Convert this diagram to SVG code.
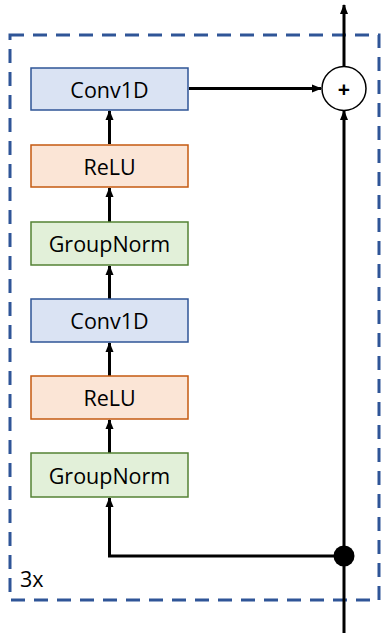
<svg xmlns="http://www.w3.org/2000/svg" width="381" height="633" viewBox="0 0 381 633">
<style>
.box{stroke-width:1.5}
.conv{fill:#DAE3F3;stroke:#2F5597}
.relu{fill:#FBE5D6;stroke:#C55A11}
.gn{fill:#E2F0D9;stroke:#548235}
.lbl{font-family:"Open Sans","Liberation Sans",sans-serif;font-size:21.5px;fill:#000;text-anchor:middle;dominant-baseline:central}
.ln{stroke:#000;stroke-width:3;fill:none}
</style>
<defs>
<marker id="ah" markerWidth="10" markerHeight="10" viewBox="0 0 10 10" refX="9" refY="5" orient="auto" markerUnits="userSpaceOnUse">
<path d="M0,1 L10,5 L0,9 Z" fill="#000"/>
</marker>
</defs>
<rect x="10" y="35" width="369" height="565" fill="none" stroke="#2F5597" stroke-width="3" stroke-dasharray="14,9"/>
<text x="20" y="578" class="lbl" style="text-anchor:start">3x</text>
<g id="connectors">
<path class="ln" d="M344,633 V111" marker-end="url(#ah)"/>
<path class="ln" d="M344,66 V5" marker-end="url(#ah)"/>
<path class="ln" d="M189,88.5 H321" marker-end="url(#ah)"/>
<path class="ln" d="M344,556 H109.5 V498" marker-end="url(#ah)"/>
<path class="ln" d="M109.5,453 V420" marker-end="url(#ah)"/>
<path class="ln" d="M109.5,376 V343" marker-end="url(#ah)"/>
<path class="ln" d="M109.5,299 V266" marker-end="url(#ah)"/>
<path class="ln" d="M109.5,222 V188" marker-end="url(#ah)"/>
<path class="ln" d="M109.5,144 V111" marker-end="url(#ah)"/>
</g>
<g id="conv1">
<rect class="box conv" x="31" y="68" width="157" height="42"/>
<text class="lbl" x="109.5" y="89">Conv1D</text>
</g>
<g id="relu1">
<rect class="box relu" x="31" y="145" width="157" height="42"/>
<text class="lbl" x="109.5" y="166">ReLU</text>
</g>
<g id="gn1">
<rect class="box gn" x="31" y="222" width="157" height="43"/>
<text class="lbl" x="109.5" y="243.5">GroupNorm</text>
</g>
<g id="conv2">
<rect class="box conv" x="31" y="299" width="157" height="43"/>
<text class="lbl" x="109.5" y="320.5">Conv1D</text>
</g>
<g id="relu2">
<rect class="box relu" x="31" y="376" width="157" height="43"/>
<text class="lbl" x="109.5" y="397.5">ReLU</text>
</g>
<g id="gn2">
<rect class="box gn" x="31" y="453" width="157" height="44"/>
<text class="lbl" x="109.5" y="475">GroupNorm</text>
</g>
<g id="add">
<circle cx="344" cy="88.5" r="22" fill="#fff" stroke="#000" stroke-width="1.5"/>
<text class="lbl" x="344" y="88.5" style="font-weight:bold">+</text>
</g>
<g id="split">
<circle cx="344" cy="556" r="10.5" fill="#000"/>
</g>
</svg>
